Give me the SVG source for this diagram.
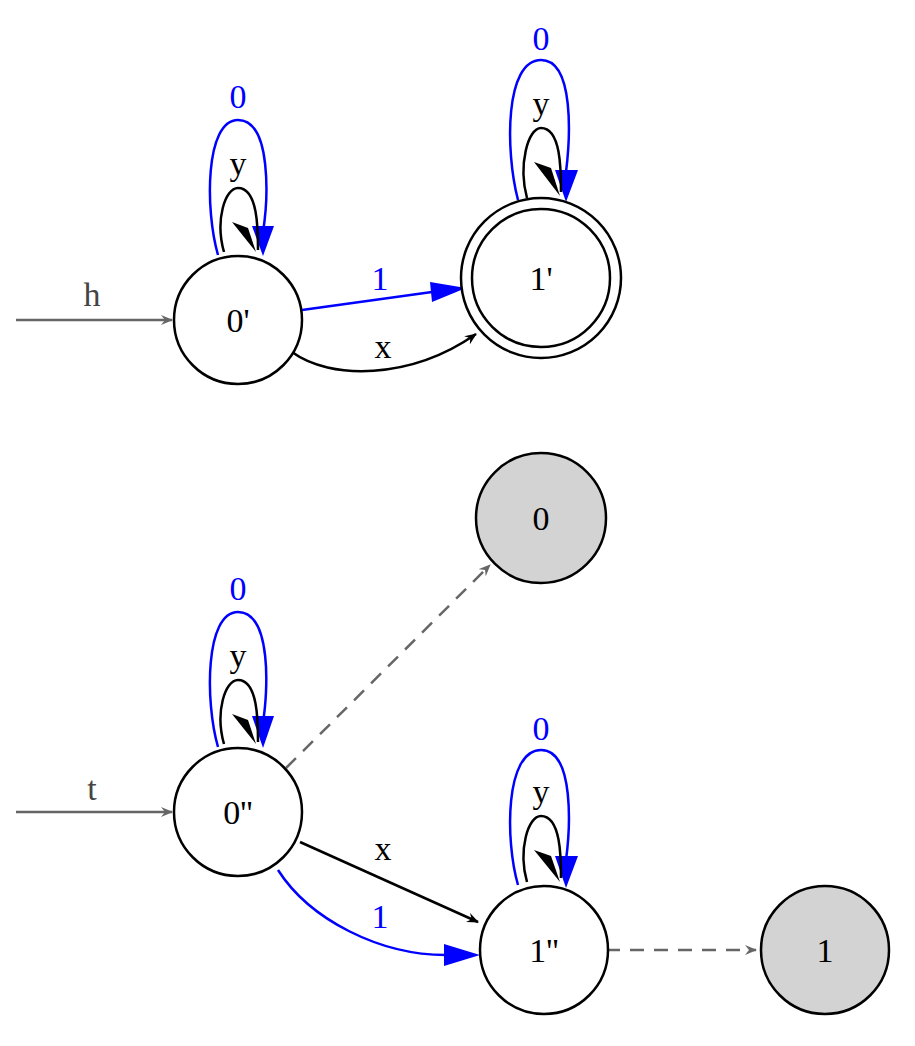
<svg xmlns="http://www.w3.org/2000/svg" width="915" height="1046" viewBox="0 0 915 1046">
<style>
text{font-family:"Liberation Serif",serif;font-size:34px;text-anchor:middle}
.n{fill:#fff;stroke:#000;stroke-width:2.5}
.g{fill:#d3d3d3;stroke:#000;stroke-width:2.5}
.b{fill:none;stroke:#00f;stroke-width:2.5}
.k{fill:none;stroke:#000;stroke-width:2.5}
.d{fill:none;stroke:#666;stroke-width:2.5}
.ds{stroke-dasharray:14,10}
</style>
<defs>
<marker id="ak" markerWidth="12" markerHeight="10" refX="11" refY="5" orient="auto" markerUnits="userSpaceOnUse" viewBox="0 0 12 10"><path d="M0,0L12,5L0,10L4,5z" fill="#000"/></marker>
<marker id="ag" markerWidth="12" markerHeight="10" refX="11" refY="5" orient="auto" markerUnits="userSpaceOnUse" viewBox="0 0 12 10"><path d="M0,0L12,5L0,10L4,5z" fill="#666"/></marker>
</defs>
<g id="connectors">
<path class="d" d="M16,320H172" style="marker-end:url(#ag)"/>
<text x="92" y="306" fill="#444">h</text>
<path class="d" d="M16,812H172" style="marker-end:url(#ag)"/>
<text x="92" y="800" fill="#444">t</text>
<path class="b" d="M218,255C205,210 205,120 238,120C272,120 268,200 263,232"/>
<path d="M252,226L274,226L263,256z" fill="#00f"/>
<text x="238" y="108" fill="#00f">0</text>
<path class="k" d="M224,252C215,220 225,188 238,188C258,188 258,230 258,250"/>
<path d="M232,222L256,252L248,228z" fill="#000"/>
<text x="238" y="175">y</text>
<path class="b" d="M518,200C505,150 505,60 541,60C575,60 570,140 566,172"/>
<path d="M555,170L578,170L566,202z" fill="#00f"/>
<text x="541" y="50" fill="#00f">0</text>
<path class="k" d="M527,198C518,165 528,128 541,128C561,128 561,170 561,192"/>
<path d="M534,162L560,196L551,168z" fill="#000"/>
<text x="541" y="115">y</text>
<path class="b" d="M218,747C205,702 205,612 238,612C272,612 268,692 263,722"/>
<path d="M252,716L274,716L263,748z" fill="#00f"/>
<text x="238" y="600" fill="#00f">0</text>
<path class="k" d="M224,744C215,712 225,680 238,680C258,680 258,722 258,742"/>
<path d="M232,714L256,744L248,720z" fill="#000"/>
<text x="238" y="667">y</text>
<path class="b" d="M518,885C505,840 505,750 541,750C575,750 570,830 566,860"/>
<path d="M555,856L578,856L566,888z" fill="#00f"/>
<text x="541" y="740" fill="#00f">0</text>
<path class="k" d="M527,882C518,850 528,816 541,816C561,816 561,858 561,878"/>
<path d="M534,850L560,882L551,856z" fill="#000"/>
<text x="541" y="803">y</text>
<path class="b" d="M302,310L432,292"/>
<path d="M430,282L466,288L432,302z" fill="#00f"/>
<text x="380" y="290" fill="#00f">1</text>
<path class="k" d="M292,352C330,380 410,380 476,334" style="marker-end:url(#ak)"/>
<text x="383" y="358">x</text>
<path class="d ds" d="M286,768L490,565" style="marker-end:url(#ag)"/>
<path class="k" d="M300,842L478,922" style="marker-end:url(#ak)"/>
<text x="383" y="860">x</text>
<path class="b" d="M278,870C310,920 380,955 446,955"/>
<path d="M444,944L480,955L444,966z" fill="#00f"/>
<text x="380" y="928" fill="#00f">1</text>
<path class="d ds" d="M606,950L756,950" style="marker-end:url(#ag)"/>
</g>
<g id="n0p"><circle class="n" cx="238" cy="320" r="64"/><text x="238" y="332">0'</text></g>
<g id="n1p"><circle class="n" cx="541" cy="278" r="80"/><circle class="n" cx="541" cy="278" r="69"/><text x="541" y="290">1'</text></g>
<g id="n0"><circle class="g" cx="541" cy="518" r="65"/><text x="541" y="530">0</text></g>
<g id="n0pp"><circle class="n" cx="238" cy="812" r="64"/><text x="238" y="824">0''</text></g>
<g id="n1pp"><circle class="n" cx="544" cy="950" r="64"/><text x="544" y="962">1''</text></g>
<g id="n1"><circle class="g" cx="825" cy="950" r="64"/><text x="825" y="962">1</text></g>
</svg>
